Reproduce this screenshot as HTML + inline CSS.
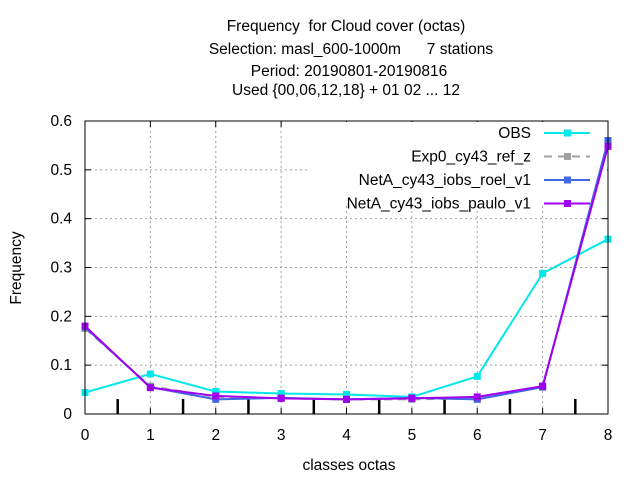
<!DOCTYPE html>
<html><head><meta charset="utf-8"><style>
body{margin:0;background:#fff;font-family:"Liberation Sans",sans-serif}
svg text{font-family:"Liberation Sans",sans-serif;font-size:15.5px;fill:#000;white-space:pre}
</style></head><body>
<svg id="c" width="640" height="480">
<g>
<text x="346" y="31" text-anchor="middle">Frequency  for Cloud cover (octas)</text>
<text x="351" y="54" text-anchor="middle">Selection: masl_600-1000m      7 stations</text>
<text x="349" y="76" text-anchor="middle">Period: 20190801-20190816</text>
<text x="346" y="95" text-anchor="middle">Used {00,06,12,18} + 01 02 ... 12</text>
</g>
<text x="349" y="470" text-anchor="middle">classes octas</text>
<text transform="translate(21,268) rotate(-90)" text-anchor="middle">Frequency</text>
<g id="grid"></g><g id="axes"></g><g id="legend"></g><g id="series"></g>
<rect x="85" y="121" width="523" height="293" fill="none" stroke="#000"/>
</svg>
<script>
const categories=[0,1,2,3,4,5,6,7,8];
const xTicks=["0","1","2","3","4","5","6","7","8"];
const yTicks=[0,0.1,0.2,0.3,0.4,0.5,0.6];
const yTickLabels=["0","0.1","0.2","0.3","0.4","0.5","0.6"];
const halfMarks=[0.5,1.5,2.5,3.5,4.5,5.5,6.5,7.5];
const obs=[0.044,0.082,0.046,0.042,0.040,0.035,0.077,0.288,0.358];
const exp0=[0.175,0.057,0.035,0.032,0.030,0.030,0.032,0.057,0.555];
const roel=[0.178,0.055,0.030,0.033,0.030,0.033,0.030,0.055,0.560];
const paulo=[0.180,0.054,0.037,0.032,0.030,0.032,0.035,0.057,0.548];
const X=v=>85+v*(523/8), Y=v=>414-v*(293/0.6);
const NS="http://www.w3.org/2000/svg";
function mk(t,a,p){const e=document.createElementNS(NS,t);for(const k in a)e.setAttribute(k,a[k]);p.appendChild(e);return e;}
const grid=document.getElementById('grid'),axes=document.getElementById('axes'),leg=document.getElementById('legend'),ser=document.getElementById('series');
categories.forEach((c,i)=>{
 if(i>0&&i<8){const l=mk('line',{x1:X(c),x2:X(c),y1:121,y2:414,stroke:'#a0a0a0','stroke-dasharray':'2,3'},grid);
 
 }
 const t=mk('text',{x:X(c),y:440,'text-anchor':'middle'},axes);t.textContent=xTicks[i];
 
 
 mk('line',{x1:X(c),x2:X(c),y1:414,y2:408,stroke:'#000'},axes);
 mk('line',{x1:X(c),x2:X(c),y1:121,y2:127,stroke:'#000'},axes);
});
yTicks.forEach((v,i)=>{
 if(i>0&&i<6){const l=mk('line',{x1:85,x2:608,y1:Y(v),y2:Y(v),stroke:'#a0a0a0','stroke-dasharray':'2,3'},grid);
 
 }
 const t=mk('text',{x:72,y:Y(v)+5,'text-anchor':'end'},axes);t.textContent=yTickLabels[i];
 
 
 mk('line',{x1:85,x2:91,y1:Y(v),y2:Y(v),stroke:'#000'},axes);
 mk('line',{x1:602,x2:608,y1:Y(v),y2:Y(v),stroke:'#000'},axes);
});
halfMarks.forEach(h=>{const l=mk('line',{x1:X(h),x2:X(h),y1:399,y2:414,stroke:'#000','stroke-width':2.5},axes);
 
 });
const bg=mk('rect',{x:310,y:122,width:297,height:84,fill:'#fff'},leg);


const series=[["OBS",obs,"#00e8e8",null],["Exp0_cy43_ref_z",exp0,"#a0a0a0","8,6"],["NetA_cy43_iobs_roel_v1",roel,"#4169e1",null],["NetA_cy43_iobs_paulo_v1",paulo,"#a000f0",null]];
series.forEach((s,k)=>{
 const g=mk('g',{},ser);
 
 
 const pts=s[1].map((v,i)=>X(categories[i])+','+Y(v)).join(' ');
 const a={points:pts,fill:'none',stroke:s[2],'stroke-width':2};if(s[3])a['stroke-dasharray']=s[3];
 mk('polyline',a,g);
 s[1].forEach((v,i)=>{const r=mk('rect',{x:X(categories[i])-3.5,y:Y(v)-3.5,width:7,height:7,fill:s[2]},g);
  
  });
 const ly=133+k*23.5;
 const le=mk('g',{},leg);
 
 
 const t=mk('text',{x:531,y:ly+5,'text-anchor':'end'},le);t.textContent=s[0];
 const la={x1:544,x2:590,y1:ly,y2:ly,stroke:s[2],'stroke-width':2};if(s[3])la['stroke-dasharray']=s[3];
 mk('line',la,le);
 mk('rect',{x:564,y:ly-3.5,width:7,height:7,fill:s[2]},le);
});
</script>
</body></html>
